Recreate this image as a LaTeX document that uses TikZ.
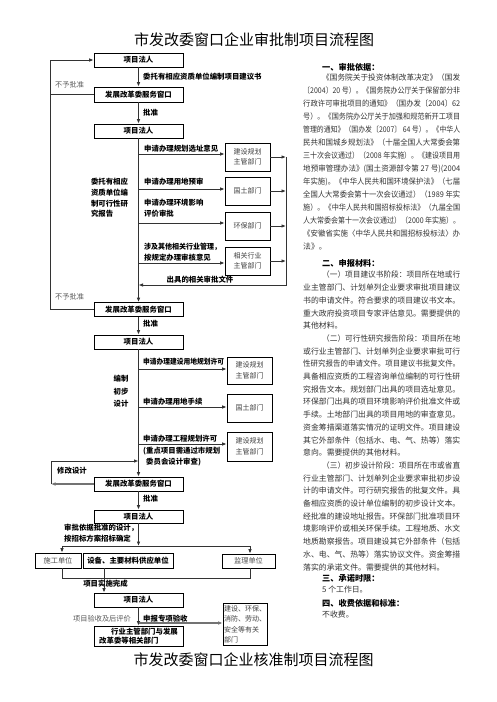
\documentclass[tikz,border=0pt]{standalone}
\usepackage{fontspec}
\usepackage{graphicx}
\setmainfont{Noto Sans CJK SC}
\usetikzlibrary{arrows.meta,calc}
\newcommand\jline[1]{\resizebox{157pt}{\height}{#1}}
\newcommand\jlinei[1]{\hspace*{19pt}\resizebox{138pt}{\height}{#1}}
\begin{document}
\begin{tikzpicture}[x=1pt,y=-1pt,
 box/.style={draw=black, line width=0.75pt, minimum width=89pt, minimum height=14pt, inner sep=0pt, font=\fontsize{7.4}{9}\selectfont\bfseries},
 rbox/.style={draw=black, line width=0.75pt, minimum width=45pt, minimum height=28pt, inner sep=0pt, align=center, font=\fontsize{7}{10.5}\selectfont, text=black!75},
 arr/.style={draw=black!80, line width=0.9pt, -{Latex[length=4.5pt,width=3.6pt]}},
 ln/.style={draw=black!80, line width=0.9pt},
 lbl/.style={font=\fontsize{7.4}{10.7}\selectfont\bfseries, inner sep=0pt},
 glbl/.style={font=\fontsize{7.2}{10}\selectfont, text=black!65, inner sep=0pt},
 txt/.style={font=\fontsize{7.85}{10}\selectfont, text=black!80, inner sep=0pt, anchor=west},
 hd/.style={font=\fontsize{8.2}{10}\selectfont\bfseries, inner sep=0pt, anchor=west},
 ttl/.style={font=\fontsize{15}{17}\selectfont, inner sep=0pt}]
\fill[white] (0,0) rectangle (496,702);
\useasboundingbox (0,0) rectangle (496,702);

% titles
\node[ttl] (t1) at (254,40) {市发改委窗口企业审批制项目流程图};
\node[ttl] (t2) at (253.5,660) {市发改委窗口企业核准制项目流程图};

% ---------- section 1 ----------
\node[box] (p1) at (138.5,60) {项目法人};
\node[box, minimum height=15pt] (w1) at (138.5,94.5) {发展改革委服务窗口};
\node[box] (p2) at (138.5,131) {项目法人};
\node[rbox] (r1) at (247.5,157) {建设规划\\主管部门};
\node[rbox] (r2) at (247.5,191) {国土部门};
\node[rbox] (r3) at (247.5,226) {环保部门};
\node[rbox] (r4) at (247.5,261) {相关行业\\主管部门};
\node[box] (w2) at (138.5,309.5) {发展改革委服务窗口};

\coordinate (lx) at (50,0);
\coordinate (rx) at (286,0);
\coordinate (ret) at (286,285);

\draw[arr] (p1) -- (w1);
\draw[arr] (w1) -- (p2);
\draw[ln] (w1.west) -- (w1.west -| lx);
\draw[arr] (w2.west) -- (w2.west -| lx) -- (p1.west -| lx) -- (p1.west);
\node[lbl, anchor=west] (l1) at (143,77) {委托有相应资质单位编制项目建议书};
\node[lbl, anchor=west] (l2) at (143,113) {批准};
\node[glbl, anchor=west] (n1) at (55,85) {不予批准};
\node[glbl, anchor=west] (n2) at (55,297) {不予批准};

\draw[arr] (p2) -- (w2);
\draw[arr] ([yshift=3pt]r1.west -| p2.south) -- ([yshift=3pt]r1.west);
\draw[arr] ([yshift=2pt]r2.west -| p2.south) -- ([yshift=2pt]r2.west);
\draw[arr] ([yshift=3pt]r3.west -| p2.south) -- ([yshift=3pt]r3.west);
\draw[arr] ([yshift=-2pt]r4.west -| p2.south) -- ([yshift=-2pt]r4.west);
\node[lbl, anchor=west] (b1) at (144,149) {申请办理规划选址意见};
\node[lbl, anchor=west] (b2) at (144,182) {申请办理用地预审};
\node[lbl, anchor=west, align=left] (b3) at (144,208) {申请办理环境影响\\评价审批};
\node[lbl, anchor=west, align=left] (b4) at (144,252.5) {\resizebox{77pt}{\height}{涉及其他相关行业管理，}\\按规定办理审核意见};
\node[lbl, align=left] (c1) at (109.5,198) {委托有相应\\资质单位编\\制可行性研\\究报告};

\draw[arr] (r1.east) -- (r1.east -| rx);
\draw[arr] (r2.east) -- (r2.east -| rx);
\draw[arr] (r3.east) -- (r3.east -| rx);
\draw[arr] (r4.east) -- (r4.east -| rx);
\draw[arr] (r1.east -| rx) -- (ret) -- (ret -| p2.south);
\node[lbl] (l3) at (200,280) {出具的相关审批文件};

% ---------- section 2 ----------
\node[box] (p3) at (138.5,342) {项目法人};
\node[rbox, minimum height=27pt] (r5) at (249.5,370.5) {建设规划\\主管部门};
\node[rbox] (r6) at (249.5,408) {国土部门};
\node[rbox, minimum height=29pt] (r7) at (249.5,446.5) {建设规划\\主管部门};
\node[box] (w3) at (138.5,484) {发展改革委服务窗口};

\draw[arr] (w2) -- (p3);
\node[lbl, anchor=west] (l4) at (143,324) {批准};
\draw[arr] (p3) -- (w3);
\draw[arr] ([yshift=1.5pt]r5.west -| p3.south) -- ([yshift=1.5pt]r5.west);
\draw[arr] ([yshift=1pt]r6.west -| p3.south) -- ([yshift=1pt]r6.west);
\draw[arr] ([yshift=2.5pt]r7.west -| p3.south) -- ([yshift=2.5pt]r7.west);
\node[lbl, anchor=west] (b5) at (143,362) {\resizebox{81pt}{\height}{申请办理建设用地规划许可}};
\node[lbl, anchor=west] (b6) at (143,402) {申请办理用地手续};
\node[lbl, anchor=west] (b7) at (143,439) {申请办理工程规划许可};
\node[lbl, anchor=west, align=left] (b8) at (143,456.5) {\resizebox{77pt}{\height}{(重点项目需通过市规划}\\\hspace*{3pt}委员会设计审查)};
\node[lbl, align=center, font=\fontsize{7.4}{12.5}\selectfont\bfseries] (c2) at (121,391.5) {编制\\初步\\设计};

\coordinate (mx) at (51,0);
\coordinate (mtop) at (51,461);
\draw[arr, draw=black!55, line width=1.3pt] (w3.west) -- (w3.west -| mx);
\draw[arr] (w3.west -| mx) -- (mtop) -- (mtop -| w3.north);
\node[lbl, anchor=west] (l5) at (57,471) {修改设计};

% ---------- section 3 ----------
\node[box, minimum height=13pt] (p4) at (138.5,516.5) {项目法人};
\node[box, minimum width=46pt, minimum height=15pt, font=\fontsize{7.2}{9}\selectfont, text=black!70] (s1) at (58,560.5) {施工单位};
\node[box, minimum width=90pt, minimum height=15pt] (s2) at (128,560.5) {设备、主要材料供应单位};
\node[box, minimum width=53pt, font=\fontsize{7.2}{9}\selectfont, text=black!70] (s3) at (248.5,561) {监理单位};
\node[box] (p5) at (138.5,600) {项目法人};
\node[box, minimum height=20pt, align=left, font=\fontsize{7.4}{9}\selectfont\bfseries] (hy) at (138.5,636) {\hspace*{12pt}行业主管部门与发展\\改革委等相关部门};
\node[rbox, minimum width=44pt, minimum height=42pt, align=left, font=\fontsize{7}{10.5}\selectfont] (r8) at (245,624.5) {建设、环保、\\消防、劳动、\\安全等有关\\部门};

\draw[arr] (w3) -- (p4);
\node[lbl, anchor=west] (l6) at (143,499) {批准};
\coordinate (hl) at (62,546);
\coordinate (hr) at (250,546);
\coordinate (bl) at (62,578);
\coordinate (br) at (250,578);
\coordinate (bx) at (104,0);
\draw[arr] (p4) -- (p4.south |- hl);
\draw[ln] (hl) -- (hr);
\draw[arr] (hl) -- (hl |- s1.north);
\draw[arr] (hr) -- (hr |- s3.north);
\draw[ln] (bl |- s1.south) -- (bl) -- (br) -- (br |- s3.south);
\draw[arr] (s2.south -| bx) -- (p5.north -| bx);
\node[lbl, anchor=west, align=left] (l7) at (64,533) {审批依据批准的设计，\\按招标方案招标确定};
\node[lbl] (l8) at (105.5,584) {项目实施完成};

\coordinate (vy) at (0,623);
\draw[arr] (p5) -- (hy);
\draw[arr, draw=black!55, line width=1.3pt] (vy -| p5.south) -- (vy -| r8.west);
\node[glbl, anchor=east] (l9) at (131,619) {项目验收及后评价};
\node[lbl, anchor=west] (l10) at (143,619) {申报专项验收};

% ---------- right text ----------
\node[hd] (h1) at (322,67) {一、审批依据：};
\foreach \t [count=\i from 0] in {
 {\jlinei{《国务院关于投资体制改革决定》（国发}},
 {\jline{〔2004〕20 号）。《国务院办公厅关于保留部分非}},
 {\jline{行政许可审批项目的通知》（国办发〔2004〕62}},
 {\jline{号）。《国务院办公厅关于加强和规范新开工项目}},
 {\jline{管理的通知》（国办发〔2007〕 64 号）。《中华人}},
 {\jline{民共和国城乡规划法》（十届全国人大常委会第}},
 {\jline{三十次会议通过）（2008 年实施）。《建设项目用}},
 {\jline{地预审管理办法》(国土资源部令第 27 号)(2004}},
 {\jline{年实施)。《中华人民共和国环境保护法》（七届}},
 {\jline{全国人大常委会第十一次会议通过）（1989 年实}},
 {\jline{施）。《中华人民共和国招标投标法》（九届全国}},
 {\jline{人大常委会第十一次会议通过）（2000 年实施）。}},
 {\jline{《安徽省实施〈中华人民共和国招标投标法〉办}},
 {法》。}
}{\node[txt] (a\i) at (303,{78+13*\i}) {\t};}

\node[hd] (h2) at (322,263) {二、申报材料：};
\foreach \t [count=\i from 0] in {
 {\jlinei{（一）项目建议书阶段：项目所在地或行}},
 {\jline{业主管部门、计划单列企业要求审批项目建议}},
 {\jline{书的申请文件。符合要求的项目建议书文本。}},
 {\jline{重大政府投资项目专家评估意见。需要提供的}},
 {其他材料。},
 {\jlinei{（二）可行性研究报告阶段：项目所在地}},
 {\jline{或行业主管部门、计划单列企业要求审批可行}},
 {\jline{性研究报告的申请文件。项目建议书批复文件。}},
 {\jline{具备相应资质的工程咨询单位编制的可行性研}},
 {\jline{究报告文本。规划部门出具的项目选址意见。}},
 {\jline{环保部门出具的项目环境影响评价批准文件或}},
 {\jline{手续。土地部门出具的项目用地的审查意见。}},
 {\jline{资金筹措渠道落实情况的证明文件。项目建设}},
 {\jline{其它外部条件（包括水、电、气、热等）落实}},
 {意向。需要提供的其他材料。},
 {\jlinei{（三）初步设计阶段：项目所在市或省直}},
 {\jline{行业主管部门、计划单列企业要求审批初步设}},
 {\jline{计的申请文件。可行研究报告的批复文件。具}},
 {\jline{备相应资质的设计单位编制的初步设计文本。}},
 {\jline{经批准的建设地址报告。环保部门批准项目环}},
 {\jline{境影响评价或相关环保手续。工程地质、水文}},
 {\jline{地质勘察报告。项目建设其它外部条件（包括}},
 {\jline{水、电、气、热等）落实协议文件。资金筹措}},
 {落实的承诺文件。需要提供的其他材料。}
}{\node[txt] (m\i) at (303,{275+12.7*\i}) {\t};}

\node[hd] (h3) at (322,578) {三、承诺时限：};
\node[txt] (d1) at (322,590) {5 个工作日。};
\node[hd] (h4) at (322,603) {四、收费依据和标准：};
\node[txt] (d2) at (322,615) {不收费。};
\end{tikzpicture}
\end{document}
